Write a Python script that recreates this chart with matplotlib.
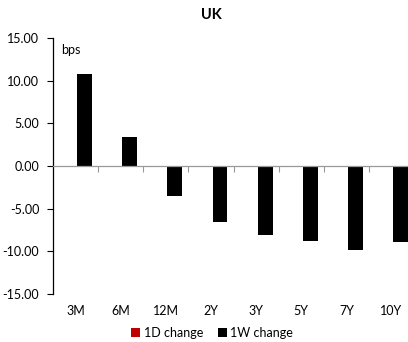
import matplotlib
matplotlib.use("Agg")
import matplotlib.pyplot as plt
import numpy as np

plt.rcParams["font.family"] = ["Lato", "DejaVu Sans"]

# ── Data: UK rate changes, bps ────────────────────────────────────────────────
TENORS    = ["3M", "6M", "12M", "2Y", "3Y", "5Y", "7Y", "10Y"]
CHANGE_1D = [0.0, 0.0, 0.0, 0.0, 0.0, 0.0, 0.0, 0.0]
CHANGE_1W = [10.8, 3.4, -3.5, -6.6, -8.1, -8.8, -9.8, -8.9]
Y_TICKS   = [-15, -10, -5, 0, 5, 10, 15]

RED   = "#C00000"
BLACK = "#000000"
BAR_W = 0.33


def make_figure():
    x = np.arange(len(TENORS))

    fig = plt.figure(figsize=(4.08, 3.42), dpi=100)
    ax = fig.add_axes([0.130, 0.1404, 0.885, 0.7485])

    ax.bar(x - 0.14, CHANGE_1D, BAR_W, color=RED, label="1D change", zorder=2)
    ax.bar(x + 0.20, CHANGE_1W, BAR_W, color=BLACK, label="1W change", zorder=2)

    ax.set_xlim(-0.5, len(TENORS) - 0.5)
    ax.set_ylim(-15, 15)
    ax.set_yticks(Y_TICKS)
    ax.set_yticklabels([f"{v:.2f}" for v in Y_TICKS], fontsize=9)
    ax.tick_params(axis="y", direction="out", length=4, width=0.8, pad=6)

    # category axis sits on zero, ticks mark group boundaries
    for s in ("top", "right"):
        ax.spines[s].set_visible(False)
    ax.spines["left"].set_linewidth(0.9)
    ax.spines["bottom"].set_position(("data", 0))
    ax.spines["bottom"].set_color("#999999")
    ax.spines["bottom"].set_linewidth(0.9)
    ax.set_xticks(x[1:] - 0.5)
    ax.set_xticklabels([])
    ax.tick_params(axis="x", direction="out", length=4, width=0.8, color="#999999")

    # tenor labels below the plot area
    for xi, lab in zip(x, TENORS):
        ax.text(xi, -0.065, lab, transform=ax.get_xaxis_transform(),
                ha="center", va="center", fontsize=9)

    ax.text(0.022, 0.975, "bps", transform=ax.transAxes,
            ha="left", va="top", fontsize=9)
    fig.text(0.517, 0.955, "UK", ha="center", va="center",
             fontsize=10.5, fontweight="bold")

    fig.legend(loc="center", bbox_to_anchor=(0.52, 0.027), ncol=2,
               frameon=False, fontsize=9, handlelength=0.7, handleheight=0.7,
               handletextpad=0.3, columnspacing=1.2)

    fig.savefig("out.png", dpi=100)
    plt.close(fig)


if __name__ == "__main__":
    make_figure()
